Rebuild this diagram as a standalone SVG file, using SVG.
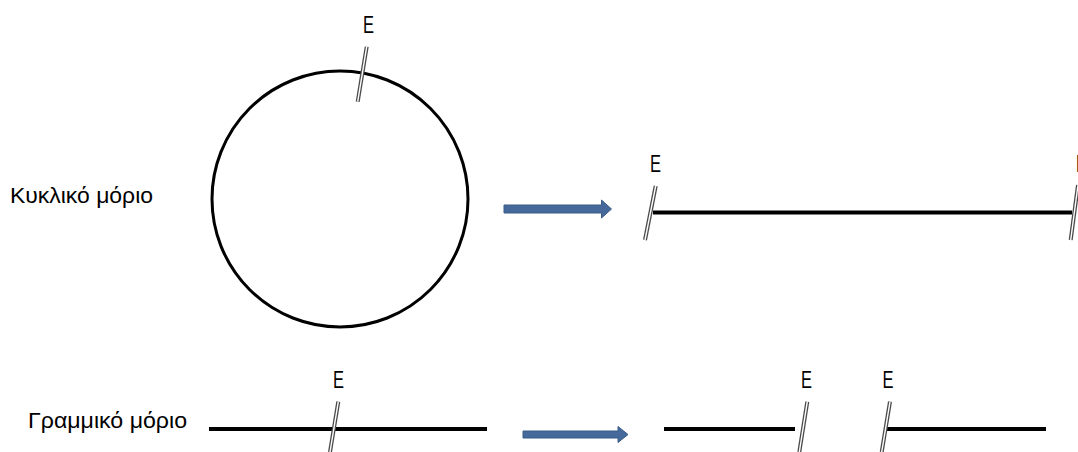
<svg xmlns="http://www.w3.org/2000/svg" width="1078" height="452" viewBox="0 0 1078 452">
<style>
  .lbl { font-family: "Liberation Sans", Arial, sans-serif; font-size: 22px; fill: #000; }
  .e { font-family: "Liberation Sans", Arial, sans-serif; font-size: 24px; fill: #000; }
  .dna { stroke: #000; stroke-width: 4; fill: none; }
  .cutO { stroke: #4a4a4a; stroke-width: 4; }
  .cutI { stroke: #fff; stroke-width: 1.4; }
  .arrow { fill: #45699a; stroke: #3a5c88; stroke-width: 1; }
</style>
<rect width="1078" height="452" fill="#fff"/>

<g id="label-circular">
  <text class="lbl" x="10" y="203" textLength="143" lengthAdjust="spacingAndGlyphs">Κυκλικό μόριο</text>
</g>
<g id="label-linear">
  <text class="lbl" x="28" y="428" textLength="159" lengthAdjust="spacingAndGlyphs">Γραμμικό μόριο</text>
</g>

<g id="circular-molecule">
  <circle cx="340" cy="199" r="128" fill="none" stroke="#000" stroke-width="3"/>
  <line class="cutO" x1="366.7" y1="46.7" x2="357.7" y2="101.7"/>
  <line class="cutI" x1="366.7" y1="46.7" x2="357.7" y2="101.7"/>
  <text class="e" x="363" y="33" textLength="11" lengthAdjust="spacingAndGlyphs">E</text>
</g>

<g id="linearised-molecule">
  <line class="dna" x1="653" y1="212.5" x2="1072" y2="212.5"/>
  <line class="cutO" x1="655.7" y1="186" x2="645" y2="240"/>
  <line class="cutI" x1="655.7" y1="186" x2="645" y2="240"/>
  <line class="cutO" x1="1078" y1="185" x2="1070.7" y2="240"/>
  <line class="cutI" x1="1078" y1="185" x2="1070.7" y2="240"/>
  <text class="e" x="650" y="172" textLength="11" lengthAdjust="spacingAndGlyphs">E</text>
  <text class="e" x="1076" y="172" textLength="11" lengthAdjust="spacingAndGlyphs">E</text>
</g>

<g id="linear-molecule">
  <line class="dna" x1="209" y1="429" x2="487" y2="429"/>
  <line class="cutO" x1="338.3" y1="401.7" x2="330" y2="452"/>
  <line class="cutI" x1="338.3" y1="401.7" x2="330" y2="452"/>
  <text class="e" x="333" y="388" textLength="11" lengthAdjust="spacingAndGlyphs">E</text>
</g>

<g id="fragment-left">
  <line class="dna" x1="664" y1="429" x2="795" y2="429"/>
  <line class="cutO" x1="807.3" y1="401.7" x2="799.3" y2="452"/>
  <line class="cutI" x1="807.3" y1="401.7" x2="799.3" y2="452"/>
  <text class="e" x="801" y="388" textLength="11" lengthAdjust="spacingAndGlyphs">E</text>
</g>

<g id="fragment-right">
  <line class="dna" x1="886" y1="429" x2="1046" y2="429"/>
  <line class="cutO" x1="890" y1="401.7" x2="881.7" y2="452"/>
  <line class="cutI" x1="890" y1="401.7" x2="881.7" y2="452"/>
  <text class="e" x="882.5" y="388" textLength="11" lengthAdjust="spacingAndGlyphs">E</text>
</g>

<g id="connectors">
  <path class="arrow" d="M504,205 L601.5,205 L601.5,200 L611.5,209 L601.5,218 L601.5,213 L504,213 Z"/>
  <path class="arrow" d="M523,431 L618,431 L618,426.5 L628,434.5 L618,442.5 L618,438 L523,438 Z"/>
</g>
</svg>
